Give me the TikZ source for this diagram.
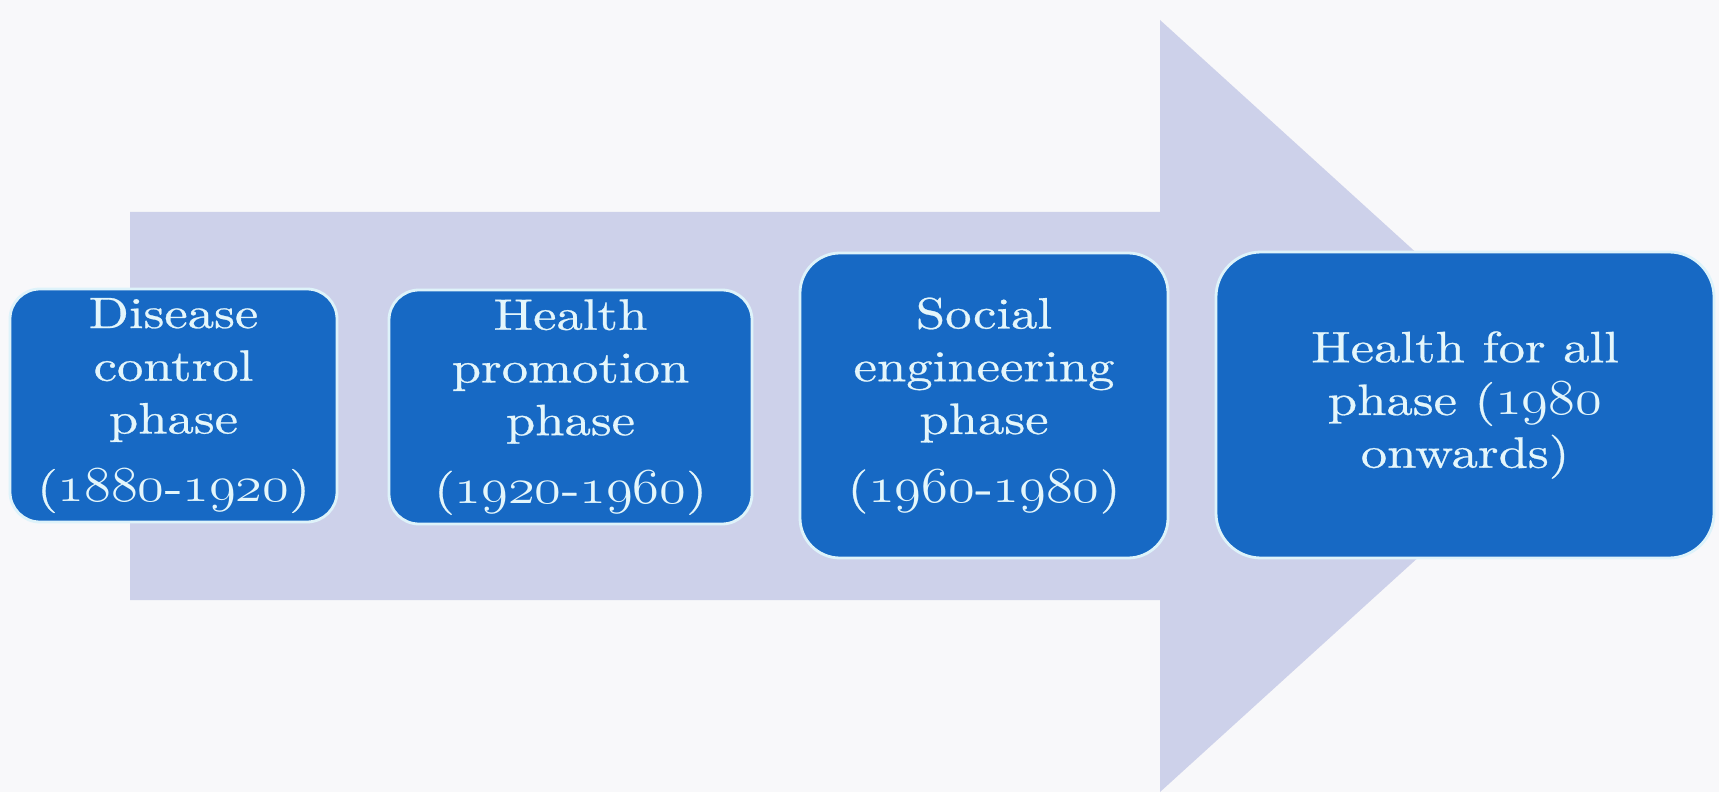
\documentclass[tikz,border=0pt]{standalone}
\usepackage{fontspec}
\usepackage{graphicx}
\usepackage{tikz}

\newfontfamily\phasefam{lmroman10-regular.otf}[FakeStretch=1.2,FakeBold=0.6]
\definecolor{bgcol}{RGB}{248,248,250}
\definecolor{arrowcol}{RGB}{205,209,234}
\definecolor{boxcol}{RGB}{23,105,196}
\definecolor{edgecol}{RGB}{222,243,250}
\definecolor{textcol}{RGB}{228,246,251}
\newcommand{\yrs}[1]{\scalebox{1.25}[1.15]{\usefont{OML}{cmm}{m}{it}#1}}

\begin{document}
\begin{tikzpicture}
\tikzstyle{phasebox}=[draw=edgecol,line width=1.6pt,fill=boxcol,text=textcol,align=center,font=\phasefam\fontsize{25}{30}\selectfont];
\useasboundingbox (0,0) rectangle (34.38,15.84);
\fill[bgcol] (0,0) rectangle (34.38,15.84);
% big arrow behind the boxes
\fill[arrowcol] (2.6,3.84) -- (2.6,11.6) -- (23.2,11.6) -- (23.2,15.44)
  -- (31.7,7.72) -- (23.2,0) -- (23.2,3.84) -- cycle;
% the four phases
\node[phasebox,rounded corners=0.6cm,minimum width=6.54cm,minimum height=4.66cm] (disease) at (3.47,7.73)
  {Disease\\control\\phase\\[9pt](\yrs{1880}-\yrs{1920})};
\node[phasebox,rounded corners=0.6cm,minimum width=7.26cm,minimum height=4.68cm] (promotion) at (11.41,7.70)
  {Health\\promotion\\phase\\[9pt](\yrs{1920}-\yrs{1960})};
\node[phasebox,rounded corners=0.8cm,minimum width=7.36cm,minimum height=6.10cm] (social) at (19.68,7.73)
  {Social\\engineering\\phase\\[9pt](\yrs{1960}-\yrs{1980})};
\node[phasebox,rounded corners=0.9cm,minimum width=9.96cm,minimum height=6.12cm] (healthall) at (29.30,7.74)
  {Health for all\\phase (\yrs{1980}\\onwards)};
\end{tikzpicture}
\end{document}
